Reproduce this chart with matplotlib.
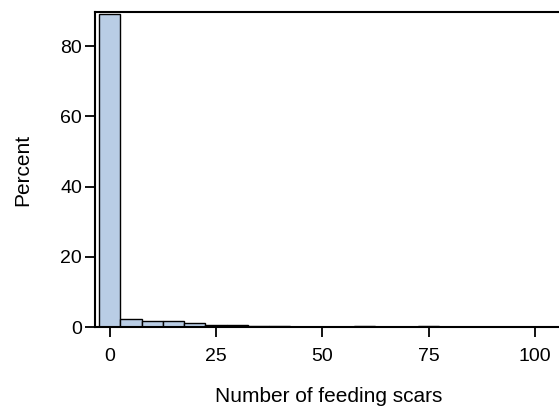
import matplotlib
matplotlib.use("Agg")
import matplotlib.pyplot as plt

plt.rcParams['font.family'] = ['Liberation Sans', 'DejaVu Sans']

bin_centers = [0, 5, 10, 15, 20, 25, 30, 35, 40, 45, 50, 55, 60, 65, 70, 75, 80, 85, 90, 95, 100, 105]
percent = [89.0, 2.3, 1.8, 1.8, 1.0, 0.6, 0.6, 0.3, 0.3, 0.1, 0.1, 0.0, 0.4, 0.05, 0.05, 0.3,
           0.0, 0.0, 0.0, 0.0, 0.0, 0.0]
xticks = [0, 25, 50, 75, 100]
yticks = [0, 20, 40, 60, 80]

W, H = 559, 407
x0_px, x1_px = 94.5, 562
y_top, y_bot = 12, 327
fig = plt.figure(figsize=(W/100, H/100), dpi=100)
ax = fig.add_axes([x0_px/W, (H - y_bot)/H, (x1_px - x0_px)/W, (y_bot - y_top)/H])

ax.bar(bin_centers, percent, width=5, color='#B9CDE5', edgecolor='black', linewidth=1.0, align='center')

ax.set_xlim(-3.6, 106.4)
ax.set_ylim(0, 89.7)
ax.set_xticks(xticks)
ax.set_yticks(yticks)
ax.tick_params(axis='both', labelsize=14, length=7, width=1.3, direction='out')
ax.tick_params(axis='x', pad=8)
ax.tick_params(axis='y', pad=2)
for s in ax.spines.values():
    s.set_linewidth(1.5)

ax.set_xlabel('Number of feeding scars', fontsize=15, labelpad=16)
ax.set_ylabel('Percent', fontsize=15, labelpad=20)

fig.savefig('out.png', dpi=100)
